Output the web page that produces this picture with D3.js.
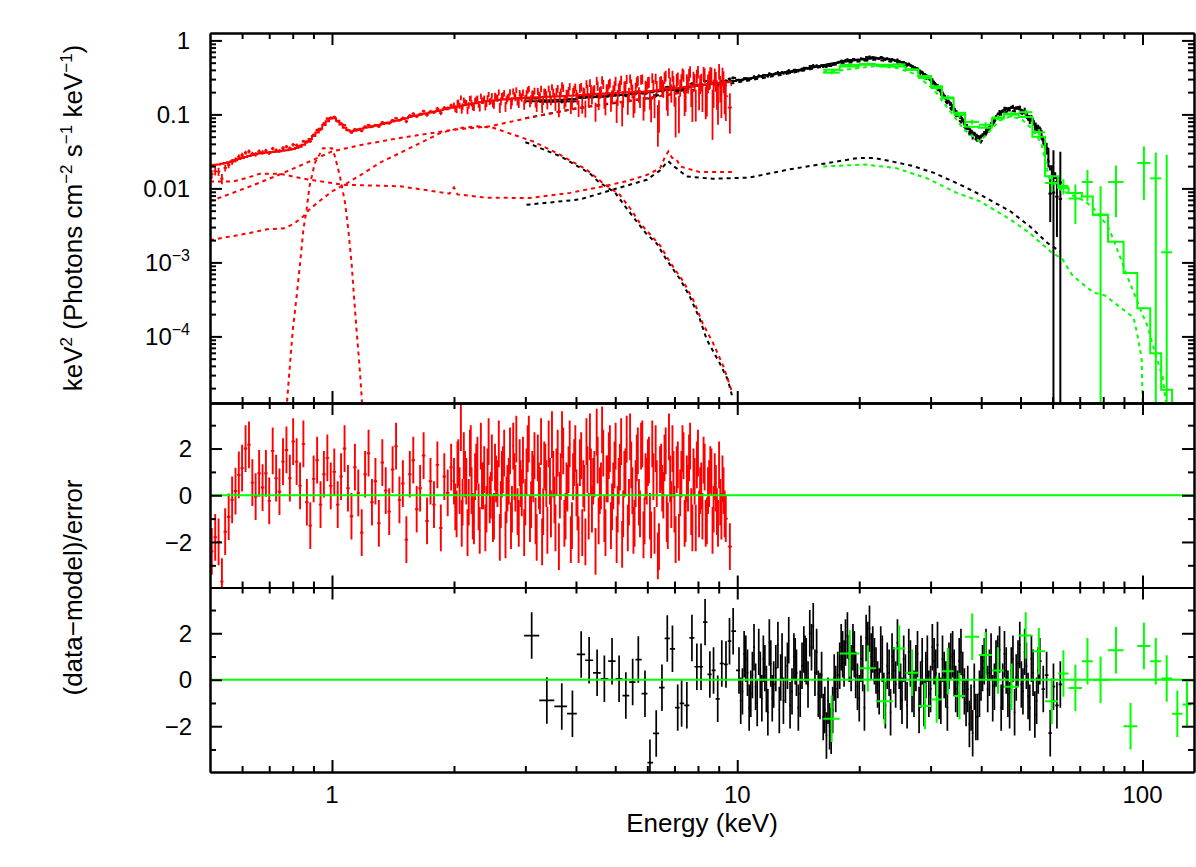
<!DOCTYPE html>
<html>
<head>
<meta charset="utf-8">
<script src="https://cdn.jsdelivr.net/npm/d3@7"></script>
<style>
  body { margin: 0; background: #fff; }
  svg { display: block; font-family: "Liberation Sans", Arial, sans-serif; }
</style>
</head>
<body>
<div id="spectrum"></div>
<script>
'use strict';
//soft band (red) bins: [energy keV, model, sigma % of model, (data-model)/error]
const redSoft = [
  [0.505,.0205,10,-2.4],[0.515,.0208,10,-1.8],[0.525,.0211,10,-2.0],[0.535,.0215,10,-3.7],
  [0.545,.0220,9,-1.56],[0.556,.0226,9,-0.92],[0.567,.0233,9,-0.2],[0.578,.0240,8,0.18],
  [0.589,.0250,8,0.87],[0.600,.0258,8,1.16],[0.612,.0266,7,2.0],[0.624,.0274,7,2.16],
  [0.636,.0282,7,0.54],[0.648,.0290,7,-0.06],[0.661,.0296,7,0.94],[0.674,.0300,7,0.33],
  [0.687,.0303,7,0.94],[0.700,.0306,6,-0.24],[0.714,.0310,6,1.9],[0.728,.0314,6,0.73],
  [0.742,.0318,6,0.15],[0.757,.0323,6,1.44],[0.772,.0328,6,1.94],[0.787,.0334,6,0.73],
  [0.802,.0342,6,2.3],[0.818,.0352,6,1.44],[0.834,.0366,5,0.4],[0.850,.0390,5,2.2],
  [0.867,.0430,5,-0.3],[0.884,.0465,5,-1.3],[0.901,.0510,5,0.7],[0.919,.0570,5,1.5],
  [0.937,.0640,5,-0.4],[0.955,.0720,5,0.9],[0.974,.0810,5,1.6],[0.993,.0880,5,0.4],
  [1.013,.089,4,1.0],[1.033,.082,4,-0.4],[1.053,.073,4,0.8],[1.074,.066,4,2.0],
  [1.095,.061,4,0.3],[1.117,.059,4,-0.9],[1.139,.060,4,1.2],[1.161,.062,4,0.1],
  [1.184,.064,4,-1.6],[1.207,.066,4,0.9],[1.231,.067,4,1.8],[1.255,.069,4,-0.3],
  [1.280,.070,4,0.6],[1.305,.072,4,-1.2],[1.331,.074,4,1.4],[1.357,.076,4,0.2],
  [1.384,.078,4,-0.7],[1.411,.080,4,1.1],[1.439,.082,4,2.1],[1.467,.084,4,-0.2],
  [1.496,.087,5,0.5],[1.526,.089,5,-1.9],[1.556,.092,5,0.9],[1.587,.095,5,1.5],
  [1.618,.097,5,-0.6],[1.650,.099,5,0.3],[1.683,.102,5,1.7],[1.716,.104,5,-1.1],
  [1.750,.106,5,0.6],[1.785,.109,5,-0.4],[1.820,.111,6,1.3],[1.856,.114,6,-1.4],
  [1.893,.117,6,0.8],[1.930,.120,6,0.1],[1.968,.123,6,1.2]
];
const redHard = [
  [2.00,.125,10,0.6],[2.03,.127,10,-0.8],[2.05,.128,10,1.4],[2.08,.130,10,2.9],[2.10,.132,10,-0.3],
  [2.13,.134,10,0.9],[2.16,.136,10,-1.6],[2.19,.138,10,1.8],[2.21,.139,10,0.2],[2.24,.141,10,-1.1],
  [2.27,.143,10,1.2],[2.30,.145,10,-0.5],[2.33,.146,10,2.1],[2.36,.148,10,0.4],[2.39,.149,10,-1.4],
  [2.42,.151,10,1.0],[2.45,.152,10,-0.2],[2.48,.154,10,1.6],[2.51,.155,12,-0.9],[2.54,.156,12,0.7],
  [2.58,.157,12,2.2],[2.61,.158,12,-0.4],[2.64,.159,12,1.1],[2.68,.160,12,-1.7],[2.71,.161,12,0.3],
  [2.75,.162,12,1.9],[2.78,.163,12,-0.6],[2.82,.164,12,0.8],[2.85,.165,12,2.4],[2.89,.166,12,-1.2],
  [2.92,.166,12,0.5],[2.96,.167,12,1.5],[3.00,.168,13,-0.3],[3.04,.168,13,2.0],[3.08,.169,13,-1.0],
  [3.12,.169,13,0.9],[3.16,.170,13,1.7],[3.20,.170,13,-1.8],[3.24,.171,13,0.4],[3.28,.171,13,2.3],
  [3.32,.172,13,-0.7],[3.36,.172,13,1.2],[3.40,.173,13,-1.5],[3.45,.173,13,0.6],[3.49,.174,13,2.6],
  [3.54,.174,15,-0.2],[3.58,.175,15,1.0],[3.63,.176,15,-2.2],[3.67,.176,15,0.8],[3.72,.177,15,1.9],
  [3.77,.177,15,-0.9],[3.81,.178,15,0.3],[3.86,.179,15,2.2],[3.91,.179,15,-1.3],[3.96,.180,15,1.4],
  [4.01,.181,17,0.1],[4.06,.182,17,-1.9],[4.12,.183,17,1.7],[4.17,.184,17,0.5],[4.22,.185,17,-2.0],
  [4.27,.186,17,1.1],[4.33,.187,17,2.5],[4.38,.187,17,-0.6],[4.44,.188,17,0.9],[4.50,.189,19,2.7],
  [4.55,.190,19,-1.1],[4.61,.190,19,0.4],[4.67,.191,19,1.8],[4.73,.192,19,-1.6],[4.79,.193,19,0.7],
  [4.85,.193,19,2.0],[4.91,.194,19,-0.5],[4.98,.195,19,1.3],[5.04,.196,21,-1.9],[5.10,.197,21,0.6],
  [5.17,.197,21,2.3],[5.23,.198,21,-0.8],[5.30,.199,21,1.0],[5.37,.199,21,-1.4],[5.44,.200,21,2.5],
  [5.51,.200,22,0.2],[5.58,.201,22,-1.2],[5.65,.202,22,1.6],[5.72,.202,22,-0.3],[5.79,.203,22,2.1],
  [5.87,.203,22,-1.7],[5.94,.204,22,0.8],[6.02,.205,23,1.4],[6.09,.206,23,-0.9],[6.17,.207,23,2.2],
  [6.25,.209,23,-1.5],[6.33,.211,23,0.5],[6.41,.214,23,-2.2],[6.49,.218,23,1.2],[6.57,.223,25,0.0],
  [6.66,.226,25,1.9],[6.74,.225,25,-1.3],[6.83,.222,25,0.7],[6.92,.222,25,2.0],[7.00,.224,27,-0.6],
  [7.09,.226,27,1.1],[7.18,.228,27,-1.8],[7.28,.230,27,0.9],[7.37,.232,27,1.7],[7.46,.235,27,-1.0],
  [7.56,.237,28,0.3],[7.65,.239,28,2.1],[7.75,.241,28,-1.4],[7.85,.243,28,0.6],[7.95,.245,28,1.3],
  [8.05,.247,30,-0.8],[8.15,.249,30,0.4],[8.26,.251,30,1.5],[8.36,.253,30,-1.2],[8.47,.255,30,0.2],
  [8.58,.257,33,1.1],[8.69,.259,33,-1.5],[8.80,.261,33,0.8],[8.91,.263,33,-0.7],[9.02,.265,35,1.3],
  [9.14,.267,35,-0.9],[9.25,.269,35,0.2],[9.37,.271,35,-1.0],[9.59,.275,25,-2.2]
];
//the finer channels that sit between the ones above
const redHardFine = [
  [2.015,.126,10,-0.5],[2.04,.1275,10,1.3],[2.065,.129,10,0.2],[2.09,.131,10,-1.2],[2.115,.133,10,1.7],
  [2.145,.135,10,0.6],[2.175,.137,10,-0.3],[2.20,.1385,10,2.0],[2.225,.140,10,-0.9],[2.255,.142,10,0.8],
  [2.285,.144,10,1.5],[2.315,.1455,10,-1.5],[2.345,.147,10,0.4],[2.375,.1485,10,1.1],[2.405,.150,10,-0.6],
  [2.435,.1515,10,2.3],[2.465,.153,10,0.0],[2.495,.1545,10,-1.0],[2.525,.1555,12,1.2],[2.56,.1565,12,0.5],
  [2.595,.1575,12,-1.8],[2.625,.1585,12,0.9],[2.66,.1595,12,1.8],[2.695,.1605,12,-0.2],[2.73,.1615,12,0.6],
  [2.765,.1625,12,-1.3],[2.80,.1635,12,2.1],[2.835,.1645,12,0.3],[2.87,.1655,12,-0.7],[2.905,.166,12,1.4],
  [2.94,.1665,12,0.1],[2.98,.1675,12,-1.6],[3.02,.168,13,1.0],[3.06,.1685,13,2.4],[3.10,.169,13,-0.4],
  [3.14,.1695,13,0.7],[3.18,.170,13,-1.1],[3.22,.1705,13,1.6],[3.26,.171,13,0.2],[3.30,.1715,13,-2.0],
  [3.34,.172,13,1.3],[3.38,.1725,13,0.5],[3.425,.173,13,2.2],[3.47,.1735,13,-0.8],[3.515,.174,15,0.9],
  [3.56,.1745,15,-1.4],[3.605,.1755,15,1.8],[3.65,.176,15,0.0],[3.695,.1765,15,2.6],[3.745,.177,15,-1.2],
  [3.79,.1775,15,0.4],[3.835,.1785,15,1.1],[3.885,.179,15,-1.9],[3.935,.1795,15,0.8],[3.985,.1805,15,2.0],
  [4.035,.1815,17,-0.5],[4.09,.1825,17,1.4],[4.145,.1835,17,-1.6],[4.195,.1845,17,0.3],[4.245,.1855,17,2.3],
  [4.30,.1865,17,-0.9],[4.355,.187,17,1.0],[4.41,.1875,17,0.6],[4.47,.1885,17,-2.4],[4.525,.1895,19,1.5],
  [4.58,.190,19,0.2],[4.64,.1905,19,2.8],[4.70,.1915,19,-1.0],[4.76,.1925,19,0.7],[4.82,.193,19,1.7],
  [4.88,.1935,19,-1.3],[4.945,.1945,19,0.4],[5.01,.1955,21,2.1],[5.07,.1965,21,-0.6],[5.135,.197,21,1.2],
  [5.20,.1975,21,-2.1],[5.265,.1985,21,0.9],[5.335,.199,21,2.4],[5.405,.1995,21,-0.3],[5.475,.200,21,1.3],
  [5.545,.2005,22,-1.5],[5.615,.2015,22,0.5],[5.685,.202,22,1.9],[5.755,.2025,22,-0.8],[5.83,.203,22,2.2],
  [5.905,.2035,22,-1.1],[5.98,.2045,22,0.6],[6.055,.2055,23,1.5],[6.13,.2065,23,-1.7],[6.21,.208,23,0.8],
  [6.29,.210,23,2.0],[6.37,.2125,23,-2.6],[6.45,.216,23,1.1],[6.53,.2205,25,0.3],[6.615,.2245,25,1.6],
  [6.70,.2255,25,-1.0],[6.785,.2235,25,2.5],[6.875,.222,25,-0.4],[6.96,.223,25,0.9],[7.045,.225,27,-1.9],
  [7.135,.227,27,1.3],[7.23,.229,27,0.1],[7.325,.231,27,2.0],[7.415,.2335,27,-1.2],[7.51,.236,28,0.7],
  [7.605,.238,28,1.6],[7.70,.240,28,-0.7],[7.80,.242,28,1.0],[7.90,.244,28,-1.4],[8.00,.246,30,1.8],
  [8.10,.248,30,0.2],[8.205,.250,30,-0.9],[8.31,.252,30,1.2],[8.415,.254,30,-1.1],[8.525,.256,33,0.5],
  [8.635,.258,33,1.0],[8.745,.260,33,-0.6],[8.855,.262,33,0.3],[8.965,.264,33,-1.2],[9.08,.266,35,-0.3],
  [9.195,.268,35,0.7],[9.31,.270,35,-0.8]
];
//hard band (black) bins, same columns
const blackLow = [
  [3.11,.150,5,1.9],[3.39,.155,5,-0.89],[3.69,.158,5,-1.15],[3.92,.162,5,-1.46],[4.12,.166,5,1.09],
  [4.31,.169,5,0.84],[4.51,.172,5,0.3],[4.70,.175,5,0.04],[4.91,.179,5,0.8],[5.11,.183,5,0.04],
  [5.31,.186,5,-0.68],[5.52,.190,5,-0.1],[5.70,.193,5,0.87],[5.92,.197,5,-0.6],[6.09,.200,5,-3.57],
  [6.31,.205,5,-2.31],[6.52,.212,5,-0.34],[6.72,.214,5,1.78],[6.92,.213,5,1.33],[7.13,.220,5,-1.2],
  [7.29,.225,5,-1.02],[7.51,.232,5,-1.1],[7.73,.238,5,1.8],[7.95,.243,5,0.56],[8.14,.247,5,0.56],
  [8.33,.251,5,2.48],[8.56,.256,5,0.23],[8.74,.260,5,0.4],[8.95,.265,5,-0.82],[9.16,.270,5,0.7],
  [9.38,.274,5,0.66],[9.57,.278,5,1.66],[9.77,.282,5,2.09]
];
const blackHigh = [
  [10.1,.290,3,0.4],[10.3,.295,3,-0.5],[10.5,.300,3,0.9],[10.7,.305,3,-1.2],[10.9,.310,3,0.2],
  [11.1,.318,3,-0.3],[11.3,.324,3,1.2],[11.5,.330,3,-0.8],[11.7,.335,3,0.5],[11.9,.340,3,-1.4],
  [12.1,.345,3,0.7],[12.3,.350,3,-0.2],[12.6,.357,3,1.5],[12.8,.362,3,0.1],[13.0,.367,3,-0.9],
  [13.3,.374,3,0.6],[13.5,.380,3,-1.1],[13.8,.388,3,1.0],[14.0,.394,3,0.3],[14.3,.402,3,-0.6],
  [14.6,.410,3,1.3],[14.8,.416,3,0.8],[15.1,.425,3,2.0],[15.4,.434,3,2.3],[15.7,.443,3,1.2],
  [16.0,.452,3,-0.7],[16.3,.461,3,-1.6],[16.6,.470,3,-2.4],[16.9,.479,3,-2.0],[17.2,.487,3,-1.3],
  [17.5,.495,3,-0.4],[17.9,.505,3,0.6],[18.2,.513,3,1.1],[18.5,.520,3,1.6],[18.9,.528,3,0.9],
  [19.3,.536,3,1.4],[19.6,.542,3,0.2],[20.0,.550,3,-0.8],[20.4,.556,3,0.5],[20.8,.562,3,1.8],
  [21.2,.567,3,2.2],[21.6,.571,3,1.3],[22.0,.574,3,0.4],[22.4,.575,3,-0.5],[22.8,.572,3,0.9],
  [23.2,.566,3,-1.1],[23.7,.556,3,0.3],[24.1,.546,3,1.0],[24.6,.532,3,-0.2],[25.1,.518,3,0.6],
  [25.5,.505,3,-0.9],[26.0,.488,3,0.1],[26.5,.468,3,1.2],[27.0,.447,3,-0.4],[27.6,.418,3,0.5],
  [28.1,.392,3,-1.3],[28.6,.366,3,0.8],[29.2,.335,3,0.2],[29.7,.310,3,-0.6],[30.3,.280,4,1.4],
  [30.9,.250,4,0.3],[31.5,.220,4,-0.7],[32.1,.190,4,0.9],[32.7,.165,4,-0.2],[33.3,.145,4,0.6],
  [34.0,.125,4,1.1],[34.6,.110,4,-0.4],[35.3,.096,6,0.8],[36.0,.083,6,0.2],[36.7,.072,6,-1.0],
  [37.4,.063,6,-1.9],[38.1,.057,6,-2.3],[38.8,.053,6,-1.6],[39.6,.049,6,-0.6],[40.3,.051,6,0.5],
  [41.1,.057,6,1.2],[41.9,.066,5,0.3],[42.7,.077,5,-0.8],[43.5,.090,5,0.7],[44.4,.103,5,1.3],
  [45.2,.112,5,-0.3],[46.1,.118,5,0.4],[47.0,.122,5,-1.1],[47.9,.123,5,0.9],[48.8,.122,5,0.1],
  [49.8,.117,5,1.5],[50.7,.110,5,-0.5],[51.7,.100,8,0.6],[52.7,.090,8,-1.2],[53.7,.081,8,0.3],
  [54.8,.070,8,-0.9],[55.8,.060,8,0.8],[56.9,.047,12,-0.4],[58.0,.034,18,0.2],[59.2,.020,25,-2.3],
  [60.3,.016,150,-0.3],[61.5,.0138,40,-1.1],[62.7,.012,200,-0.2]
];
//finer hard band channels between the ones above
const blackFine = [
  [10.2,.2925,3,-0.9],[10.4,.2975,3,1.1],[10.6,.3025,3,0.3],[10.8,.3075,3,-0.6],[11.0,.314,3,1.4],
  [11.2,.321,3,-1.0],[11.4,.327,3,0.2],[11.6,.3325,3,0.9],[11.8,.3375,3,-0.4],[12.0,.3425,3,1.6],
  [12.2,.3475,3,-0.8],[12.45,.3535,3,0.5],[12.7,.3595,3,-1.3],[12.9,.3645,3,1.0],[13.15,.3705,3,0.0],
  [13.4,.377,3,1.7],[13.65,.384,3,-0.5],[13.9,.391,3,0.8],[14.15,.398,3,-1.2],[14.45,.406,3,0.6],
  [14.7,.413,3,0.9],[14.95,.4205,3,-0.2],[15.25,.4295,3,1.4],[15.55,.4385,3,0.3],[15.85,.4475,3,-0.6],
  [16.15,.4565,3,0.2],[16.45,.4655,3,-1.3],[16.75,.4745,3,-0.9],[17.05,.483,3,-2.2],[17.35,.491,3,0.1],
  [17.7,.50,3,0.2],[18.05,.509,3,1.4],[18.35,.5165,3,0.7],[18.7,.524,3,1.9],[19.1,.532,3,0.5],
  [19.45,.539,3,1.1],[19.8,.546,3,-0.3],[20.2,.553,3,0.9],[20.6,.559,3,-1.2],[21.0,.5645,3,1.5],
  [21.4,.569,3,1.0],[21.8,.5725,3,0.8],[22.2,.5745,3,-0.2],[22.6,.5735,3,1.3],[23.0,.569,3,-0.7],
  [23.45,.561,3,0.6],[23.9,.551,3,-1.4],[24.35,.539,3,0.4],[24.85,.525,3,1.6],[25.3,.5115,3,-0.3],
  [25.75,.4965,3,0.9],[26.25,.478,3,-1.1],[26.75,.4575,3,0.7],[27.3,.4325,3,-0.6],[27.85,.405,3,1.1],
  [28.35,.379,3,-0.2],[28.9,.3505,3,-1.0],[29.45,.3225,3,0.9],[30.0,.295,4,-0.4],[30.6,.265,4,0.8],
  [31.2,.235,4,1.5],[31.8,.205,4,-0.9],[32.4,.1775,4,0.2],[33.0,.155,4,-1.2],[33.65,.135,4,1.0],
  [34.3,.1175,4,0.3],[34.95,.103,6,-0.6],[35.65,.0895,6,1.2],[36.35,.0775,6,-0.5],[37.05,.0675,6,-0.4],
  [37.75,.060,6,-1.2],[38.45,.055,6,-0.3],[39.2,.051,6,-1.6],[39.95,.050,6,0.1],[40.7,.054,6,0.8],
  [41.5,.0615,6,-0.4],[42.3,.0715,5,1.0],[43.1,.0835,5,-0.3],[43.95,.0965,5,0.9],[44.8,.1075,5,-1.2],
  [45.65,.115,5,1.1],[46.55,.120,5,-0.6],[47.45,.1225,5,0.4],[48.35,.1225,5,-1.4],[49.3,.1195,5,0.7],
  [50.25,.1135,5,-0.2],[51.2,.105,8,1.2],[52.2,.095,8,-0.7],[53.2,.0855,8,0.9],[54.25,.0755,8,-1.5],
  [55.3,.065,8,0.4]
];
//wide high energy (green) bins: [lo keV, hi keV, model, sigma, (data-model)/error]
const greenBins = [
  [16.3,17.9,.40,.02,-1.68],[17.9,20.0,.445,.02,1.13],[20.0,22.0,.47,.022,0.49],
  [22.0,24.2,.47,.022,-0.92],[24.2,26.0,.445,.022,1.35],[26.0,28.0,.40,.02,0.3],
  [28.0,30.1,.33,.018,-1.13],[30.1,32.0,.24,.015,-0.85],[32.0,34.2,.165,.012,0.37],
  [34.2,36.5,.105,.009,-0.7],[36.5,39.5,.068,.006,1.85],[39.5,42.5,.066,.006,1.06],
  [42.5,45.5,.088,.007,0.4],[45.5,49.5,.102,.008,-0.3],[49.5,53.5,.092,.008,1.9],
  [53.5,57.5,.05,.006,1.23],[57.5,61.9,.0146,.003,-0.92],[61.9,65.7,.0101,.0025,0.27],
  [65.7,70.9,.0087,.004,-0.35],[70.9,75.4,.0078,.0055,0.8],[75.4,82.2,.0044,.0063,0],
  [82.2,89.8,.0019,.0081,1.27],[89.8,97.1,.00072,.009,-2.0],[97.1,104.5,.00024,.015,1.45],
  [104.5,111.2,.000059,.017,0.8],[111.2,118.3,.000019,.027,0.05],[118.3,125.5,.000005,.03,-1.46],
  [125.5,132,.000002,.035,-1.07]
];
//additive model components: [keV, flux]
const redComp = [[0.5,0.0067],[0.627,0.0106],[0.74,0.0153],[0.882,0.0232],[1.0,0.0316],[1.19,0.039],[1.47,0.048],[1.99,0.062],[2.45,0.069],[3.03,0.089],[4.02,0.122],[5.0,0.145],[6.0,0.165],[7.0,0.19],[8.5,0.225],[9.7,0.25]];
const redBbody = [[0.5,0.0020],[0.616,0.00245],[0.69,0.0028],[0.766,0.0029],[0.81,0.0034],[0.85,0.0042],[0.88,0.0052],[0.93,0.0067],[1.0,0.0091],[1.09,0.0118],[1.2,0.0162],[1.31,0.0221],[1.47,0.030],[1.65,0.041],[1.85,0.056],[2.07,0.0656],[2.28,0.069],[2.5,0.066],[2.7,0.057],[3.14,0.043],[3.59,0.030],[4.25,0.0179],[4.66,0.0118],[5.13,0.0082],[5.44,0.0054],[5.75,0.0034],[6.09,0.0024],[6.45,0.0017],[6.83,0.0010],[7.35,0.00056],[7.79,0.00031],[8.22,0.00015],[8.72,0.000081],[9.25,0.000039],[9.7,0.000018]];
const redLine = [[0.77,0.000008],[0.776,0.000015],[0.788,0.000043],[0.80,0.00012],[0.818,0.00035],[0.834,0.00096],[0.85,0.0028],[0.866,0.0052],[0.88,0.0106],[0.907,0.022],[0.95,0.035],[1.0,0.035],[1.017,0.027],[1.046,0.0146],[1.077,0.0064],[1.097,0.0028],[1.118,0.00096],[1.133,0.00035],[1.15,0.00012],[1.168,0.000043],[1.184,0.000015],[1.19,0.000008]];
const redRefl = [[0.5,0.0124],[0.57,0.0124],[0.62,0.014],[0.664,0.0158],[0.744,0.0158],[0.80,0.0145],[0.882,0.0131],[1.065,0.0112],[1.47,0.0107],[1.95,0.0085],[2.0,0.0103],[2.04,0.0083],[2.4,0.0075],[3.08,0.0074],[3.87,0.0087],[4.65,0.0106],[5.33,0.0125],[5.98,0.0152],[6.45,0.0187],[6.62,0.026],[6.76,0.0316],[6.9,0.026],[7.09,0.0245],[7.23,0.0198],[8.09,0.0166],[9.7,0.0166]];
const blackComp = [[3.0,0.089],[4.0,0.12],[5.0,0.142],[6.0,0.165],[7.0,0.19],[8.5,0.235],[10,0.27],[13.5,0.36],[16.7,0.455],[20,0.52],[22,0.55],[24.7,0.505],[27.5,0.4],[30.6,0.25],[34.2,0.105],[36.3,0.068],[39.7,0.04],[44.3,0.1],[47.2,0.113],[50.3,0.103],[53.7,0.076],[56.3,0.052],[58.1,0.03],[59.4,0.016],[61.5,0.012],[63,0.0104]];
const blackBbody = [[3.0,0.042],[3.08,0.040],[3.69,0.0266],[4.33,0.0159],[4.53,0.0125],[5.0,0.0087],[5.33,0.0054],[5.64,0.0036],[5.98,0.0024],[6.33,0.0018],[6.68,0.0011],[7.23,0.00059],[7.63,0.00035],[8.09,0.00017],[8.4,0.000092],[9.06,0.000043],[9.48,0.000026],[9.7,0.000016]];
const blackRefl = [[3.02,0.006],[4.09,0.0071],[4.93,0.0096],[5.98,0.0131],[6.45,0.0175],[6.63,0.021],[6.76,0.0233],[6.95,0.02],[7.09,0.0187],[7.5,0.0145],[8.7,0.0135],[10.7,0.014],[13.4,0.018],[16.7,0.022],[19.9,0.0258],[21.7,0.0258],[24.2,0.023],[27.2,0.02],[30.6,0.0162],[36.3,0.0106],[40.5,0.0078],[47.2,0.0049],[52.6,0.0031],[58.5,0.0018],[62.7,0.0014]];
const greenComp = [[16.3,0.37],[20,0.425],[22,0.45],[24.7,0.425],[27.5,0.35],[30.6,0.215],[34.2,0.095],[36.3,0.062],[39.7,0.043],[44.3,0.082],[47.2,0.094],[50.3,0.086],[53.7,0.062],[56.3,0.04],[59,0.013],[63,0.0095],[68,0.0078],[72,0.0068],[77,0.0049],[82.6,0.0029],[88,0.0012],[91.8,0.00064],[98.6,0.00024],[103,0.000135],[108,0.000054],[112,0.000029],[115,0.00001],[116,0.000005]];
const greenRefl = [[16.3,0.0198],[20.7,0.021],[24.7,0.0188],[29.3,0.0138],[34.8,0.0087],[39.7,0.0067],[47.2,0.0038],[52.6,0.0025],[59.3,0.0014],[63.5,0.0011],[67,0.00068],[70.6,0.00053],[75.8,0.00039],[80.6,0.00036],[84.9,0.00029],[95,0.00018],[97,0.00011],[99.5,0.00005],[100.5,0.000005]];
//tick values and labels
const xMajor = [1, 10, 100];
const xLabels = ["1", "10", "100"];
const yTopMajor = [1, 0.1, 0.01, 1e-3, 1e-4];
const yTopLabels = [["1", ""], ["0.1", ""], ["0.01", ""], ["10", "−3"], ["10", "−4"]];
const resMajor = [2, 0, -2];
const resLabels = ["2", "0", "−2"];
const yTitleParts = [["keV", 0], ["2", 1], [" (Photons cm", 0], ["−2", 1], [" s", 0], ["−1", 1], [" keV", 0], ["−1", 1], [")", 0]];

//margins of the outer svg
const margin = {left: 210, right: 2, top: 33, bottom: 95};
const width = 1196 - margin.left - margin.right;
const hTop = 370, hRes = 184.5;
const height = hTop + 2 * hRes;

const x = d3.scaleLog().domain([0.5, 134]).range([0, width]);
const yTop = d3.scaleLog().domain([1.259e-5, 1.259]).range([hTop, 0]);
const yMid = d3.scaleLinear().domain([-3.95, 3.95]).range([hTop + hRes, hTop]);
const yBot = d3.scaleLinear().domain([-3.97, 3.97]).range([height, hTop + hRes]);

const svg = d3.select("#spectrum").append("svg")
    .attr("width", 1196)
    .attr("height", 867)
    .append("g")
    .attr("transform", "translate(" + margin.left + "," + margin.top + ")");

//one clip per panel
const clips = [["clipTop", 0, hTop], ["clipMid", hTop, hRes], ["clipBot", hTop + hRes, hRes]];
const defs = svg.append("defs");
clips.forEach(function(c) {
    defs.append("clipPath").attr("id", c[0]).append("rect")
        .attr("x", 0).attr("y", c[1]).attr("width", width).attr("height", c[2]);
});
const gTop = svg.append("g").attr("clip-path", "url(#clipTop)");
const gMid = svg.append("g").attr("clip-path", "url(#clipMid)");
const gBot = svg.append("g").attr("clip-path", "url(#clipBot)");

//bin edges halfway (in log) between neighbouring channel energies
function binPoints(rows) {
    const e = rows.map(function(d) { return d[0]; });
    return rows.map(function(d, i) {
        const prev = i > 0 ? e[i - 1] : e[i] * e[i] / e[i + 1];
        const next = i < e.length - 1 ? e[i + 1] : e[i] * e[i] / e[i - 1];
        return {
            e: d[0], lo: Math.sqrt(prev * d[0]), hi: Math.sqrt(d[0] * next),
            model: d[1], flux: d[1] * (1 + d[3] * d[2] / 100), err: d[1] * d[2] / 100, res: d[3]
        };
    });
}
function greenPoints(rows) {
    return rows.map(function(d) {
        return {e: (d[0] + d[1]) / 2, lo: d[0], hi: d[1], model: d[2], flux: d[2] + d[4] * d[3], err: d[3], res: d[4]};
    });
}
const byEnergy = function(a, b) { return a[0] - b[0]; };
const redPts = binPoints(redSoft.concat(redHard, redHardFine).sort(byEnergy));
const blackPts = binPoints(blackLow.concat(blackHigh, blackFine).sort(byEnergy));
const greenPts = greenPoints(greenBins);

//log y that parks non positive values below the panel (clipped away)
function ly(v) { return v > 0 ? yTop(v) : hTop + 20; }

function topCrosses(pts, color, sw) {
    const g = gTop.append("g").attr("stroke", color).attr("stroke-width", sw);
    g.selectAll(".v").data(pts).join("line")
        .attr("x1", function(p) { return x(p.e); })
        .attr("x2", function(p) { return x(p.e); })
        .attr("y1", function(p) { return ly(p.flux - p.err); })
        .attr("y2", function(p) { return ly(p.flux + p.err); });
    g.selectAll(".h").data(pts.filter(function(p) { return p.flux > 0; })).join("line")
        .attr("x1", function(p) { return x(p.lo); })
        .attr("x2", function(p) { return x(p.hi); })
        .attr("y1", function(p) { return yTop(p.flux); })
        .attr("y2", function(p) { return yTop(p.flux); });
}
function resCrosses(g, ys, pts, color, sw) {
    const grp = g.append("g").attr("stroke", color).attr("stroke-width", sw);
    grp.selectAll(".v").data(pts).join("line")
        .attr("x1", function(p) { return x(p.e); })
        .attr("x2", function(p) { return x(p.e); })
        .attr("y1", function(p) { return ys(p.res - 1); })
        .attr("y2", function(p) { return ys(p.res + 1); });
    grp.selectAll(".h").data(pts).join("line")
        .attr("x1", function(p) { return x(p.lo); })
        .attr("x2", function(p) { return x(p.hi); })
        .attr("y1", function(p) { return ys(p.res); })
        .attr("y2", function(p) { return ys(p.res); });
}
//model histogram through the bins
const stepLine = d3.line()
    .x(function(d) { return x(d[0]); })
    .y(function(d) { return ly(d[1]); });
function modelStep(pts, color) {
    const steps = [];
    pts.forEach(function(p) { steps.push([p.lo, p.model]); steps.push([p.hi, p.model]); });
    gTop.append("path").datum(steps)
        .attr("d", stepLine)
        .attr("fill", "none").attr("stroke", color).attr("stroke-width", 2);
}
const compLine = d3.line()
    .x(function(d) { return x(d[0]); })
    .y(function(d) { return yTop(d[1]); });
function component(data, color) {
    gTop.append("path").datum(data)
        .attr("d", compLine)
        .attr("fill", "none").attr("stroke", color)
        .attr("stroke-width", 2).attr("stroke-dasharray", "4,4");
}

//top panel: unfolded spectra
topCrosses(blackPts, "#000", 2);
modelStep(blackPts, "#000");
component(blackComp, "#000");
component(blackBbody, "#000");
component(blackRefl, "#000");
topCrosses(redPts, "#ff0000", 1.8);
modelStep(redPts, "#ff0000");
component(redComp, "#ff0000");
component(redBbody, "#ff0000");
component(redLine, "#ff0000");
component(redRefl, "#ff0000");
topCrosses(greenPts, "#00ff00", 2);
modelStep(greenPts, "#00ff00");
component(greenComp, "#00ff00");
component(greenRefl, "#00ff00");

//residual panels
resCrosses(gMid, yMid, redPts, "#ff0000", 1.9);
resCrosses(gBot, yBot, blackPts, "#000", 1.7);
resCrosses(gBot, yBot, greenPts, "#00ff00", 2);
[[gMid, yMid], [gBot, yBot]].forEach(function(p) {
    p[0].append("line")
        .attr("x1", 0).attr("x2", width)
        .attr("y1", p[1](0)).attr("y2", p[1](0))
        .attr("stroke", "#00ff00").attr("stroke-width", 2);
});

//frames with inward ticks on all four sides
function styleAxis(g) {
    g.selectAll("path, line").attr("stroke", "#000").attr("stroke-width", 2);
    g.selectAll("text").remove();
}
function frame(y0, y1, yScale, yMajorVals, yMinorVals) {
    const xMinorVals = x.ticks().filter(function(t) { return xMajor.indexOf(t) < 0 && t > 0.5; });
    [[xMajor, 12], [xMinorVals, 6]].forEach(function(set) {
        svg.append("g").attr("transform", "translate(0," + y1 + ")")
            .call(d3.axisBottom(x).tickValues(set[0]).tickSizeInner(-set[1]).tickSizeOuter(0))
            .call(styleAxis);
        svg.append("g").attr("transform", "translate(0," + y0 + ")")
            .call(d3.axisTop(x).tickValues(set[0]).tickSizeInner(-set[1]).tickSizeOuter(0))
            .call(styleAxis);
    });
    [[yMajorVals, 12], [yMinorVals, 6]].forEach(function(set) {
        svg.append("g")
            .call(d3.axisLeft(yScale).tickValues(set[0]).tickSizeInner(-set[1]).tickSizeOuter(0))
            .call(styleAxis);
        svg.append("g").attr("transform", "translate(" + width + ",0)")
            .call(d3.axisRight(yScale).tickValues(set[0]).tickSizeInner(-set[1]).tickSizeOuter(0))
            .call(styleAxis);
    });
}
const yTopMinor = yTop.ticks().filter(function(t) { return yTopMajor.indexOf(t) < 0; });
frame(0, hTop, yTop, yTopMajor, yTopMinor);
const resMinor = [-3, -1, 1, 3];
frame(hTop, hTop + hRes, yMid, resMajor, resMinor);
frame(hTop + hRes, height, yBot, resMajor, resMinor);

//tick labels
const labels = svg.append("g").attr("font-size", 24).attr("fill", "#000");
yTopMajor.forEach(function(v, i) {
    const t = labels.append("text")
        .attr("x", -20).attr("y", yTop(v)).attr("dy", "0.36em")
        .attr("text-anchor", "end");
    t.append("tspan").text(yTopLabels[i][0]);
    if (yTopLabels[i][1]) {
        t.append("tspan").attr("font-size", 16).attr("dy", "-0.6em").text(yTopLabels[i][1]);
    }
});
[yMid, yBot].forEach(function(ys) {
    resMajor.forEach(function(v, i) {
        labels.append("text")
            .attr("x", -18).attr("y", ys(v)).attr("dy", "0.36em")
            .attr("text-anchor", "end").text(resLabels[i]);
    });
});
xMajor.forEach(function(v, i) {
    labels.append("text")
        .attr("x", x(v)).attr("y", height + 31)
        .attr("text-anchor", "middle").text(xLabels[i]);
});

//axis titles
svg.append("text")
    .attr("x", width / 2).attr("y", height + 60)
    .attr("text-anchor", "middle").attr("font-size", 26)
    .text("Energy (keV)");
const yTitle = svg.append("text")
    .attr("transform", "translate(-128," + (hTop / 2) + ") rotate(-90)")
    .attr("text-anchor", "middle").attr("font-size", 26);
let raised = false;
yTitleParts.forEach(function(p) {
    const s = yTitle.append("tspan").text(p[0]);
    if (p[1]) {
        s.attr("font-size", 17).attr("dy", -10);
        raised = true;
    } else if (raised) {
        s.attr("dy", 10);
        raised = false;
    }
});
svg.append("text")
    .attr("transform", "translate(-128," + (hTop + hRes) + ") rotate(-90)")
    .attr("text-anchor", "middle").attr("font-size", 26)
    .text("(data−model)/error");
</script>
</body>
</html>
